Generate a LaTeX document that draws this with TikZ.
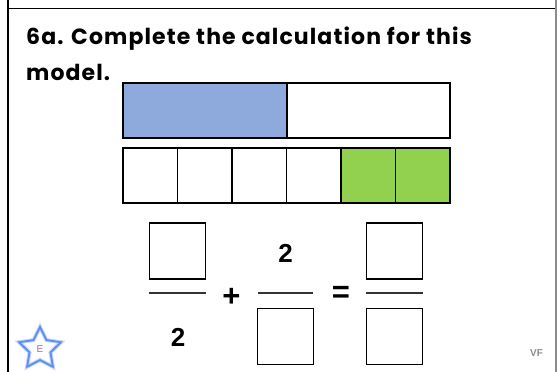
\documentclass[tikz,border=0pt]{standalone}
\usepackage{fontspec}
\setmainfont{Poppins}
\newfontfamily\titlefont[LetterSpace=5]{Poppins}
\newfontfamily\numfont{Liberation Sans}
\usetikzlibrary{positioning,shapes.geometric}
\definecolor{barblue}{HTML}{8EA9DB}
\definecolor{bargreen}{HTML}{92D050}
\definecolor{starblue}{HTML}{5B8DF5}
\tikzset{
  cell/.style={draw,line width=1.6pt,fill=#1,minimum height=55pt,inner sep=0pt},
  cell/.default={white},
  sq/.style={draw,line width=1.6pt,minimum size=56pt,inner sep=0pt},
  num/.style={font=\numfont\bfseries\fontsize{26}{26}\selectfont,inner sep=0pt},
  op/.style={font=\numfont\bfseries\fontsize{31}{31}\selectfont,inner sep=0pt},
  qtxt/.style={anchor=base west,font=\titlefont\bfseries\fontsize{22}{22}\selectfont,inner sep=0pt},
  fbar/.style={line width=1.6pt,black!80},
}
\begin{document}
\begin{tikzpicture}[x=1pt,y=-1pt]
 \useasboundingbox (0,0) rectangle (557,372);
 % frame
 \draw[line width=1.8pt] (8,0)--(8,372); \draw[line width=1.8pt] (8,8.5)--(557,8.5);
 \draw[line width=1.5pt,black!45] (556,0)--(556,372);
 \node[qtxt] (q1) at (26,44.5){6a. Complete the calculation for this};
 \node[qtxt] (q2) at (26,80){model.};
 % model: halves
 \node[cell=barblue,minimum width=164pt] (h1) at (205,110.5){};
 \node[cell,minimum width=163pt] (h2) at (368.5,110.5){};
 % model: sixths
 \foreach \i in {1,...,6}{
   \ifnum\i>4 \def\c{bargreen}\else\def\c{white}\fi
   \node[cell=\c,minimum width=54.5pt] (s\i) at (123+54.5*\i-27.25,175.5){};
 }
 % calculation
 \node[sq] (a1) at (177.5,251){};
 \draw[fbar] (149,293)--(206,293);
 \node[num] (a2) at (178,337){2};
 \node[op] (plus) at (231.5,297){+};
 \node[num] (b1) at (285.5,253.5){2};
 \draw[fbar] (258,293)--(313,293);
 \node[sq] (b2) at (285.5,336.5){};
 \node[op] (eq) at (341,294){=};
 \node[sq] (c1) at (394.5,251){};
 \draw[fbar] (366,293)--(423,293);
 \node[sq] (c2) at (394.5,336.5){};
 % corner marks
 \node[star,star points=5,star point ratio=2.0,draw=starblue!35,line width=4pt,minimum size=44pt,inner sep=0pt] at (40,349){};
 \node[star,star points=5,star point ratio=2.0,draw=starblue,line width=1.8pt,minimum size=44pt,inner sep=0pt] (st) at (40,349){};
 \node[font=\numfont\fontsize{10}{10}\selectfont,text=violet!60,inner sep=0pt] at (st.center){E};
 \node[font=\numfont\bfseries\fontsize{10}{10}\selectfont,text=black!45,inner sep=0pt] (vf) at (536.5,353){VF};
\end{tikzpicture}
\end{document}
